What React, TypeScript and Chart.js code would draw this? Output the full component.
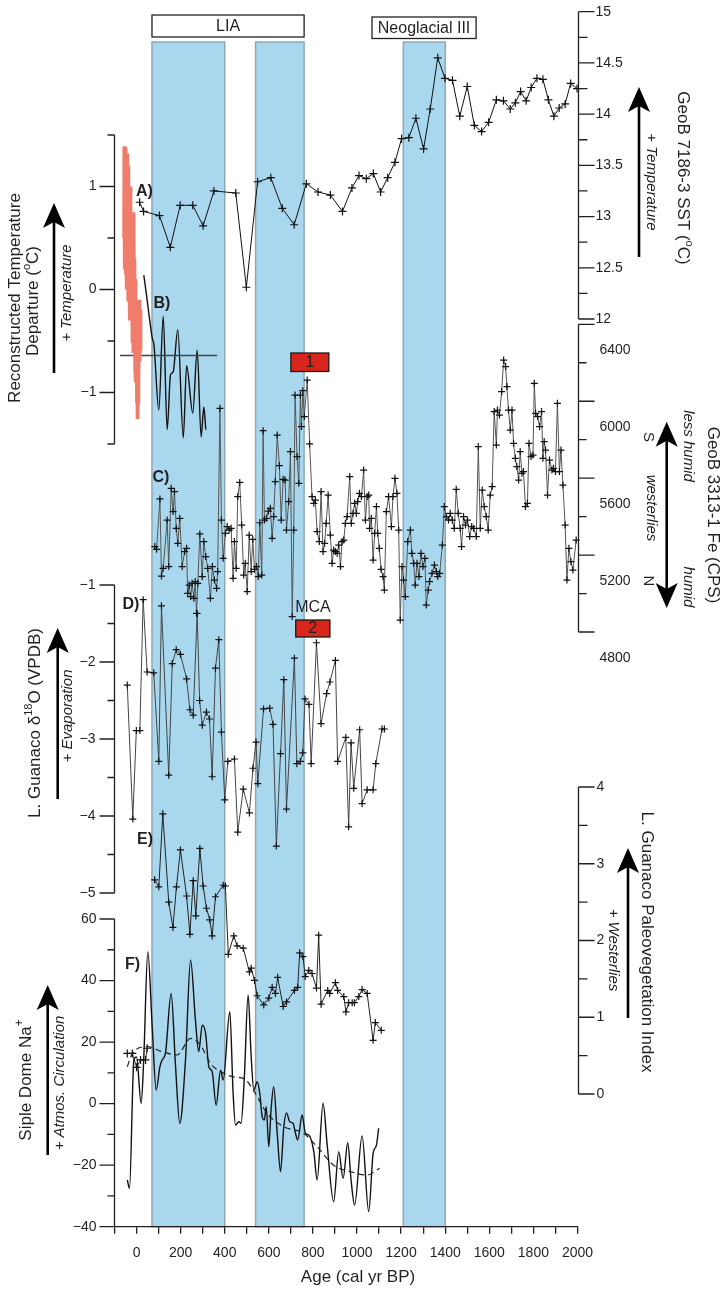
import React, { useEffect, useRef } from 'react';
import { Chart, registerables } from 'chart.js';

Chart.register(...registerables);

const W = 724;
const H = 1289;
const PLOT_LEFT = 114.5;
const PLOT_RIGHT = 577.5;
const AGE_MIN = -100;
const AGE_MAX = 2000;
const INK = '#231f20';
const FONT = '"Liberation Sans", Arial, Helvetica, sans-serif';
const BAND_FILL = '#a9d8ee';
const BAND_EDGE = '#8ea7b6';
const BAND_TOP = 42;

// Cold phases shaded across all records (cal yr BP)
const coldPhases = [[70, 400], [540, 760], [1210, 1400]];

// Tick labels
const ageLabels = [0, 200, 400, 600, 800, 1000, 1200, 1400, 1600, 1800, 2000];
const sstTicks = [12, 12.5, 13, 13.5, 14, 14.5, 15];
const tempTicks = [-1, 0, 1];
const feTicks = [4800, 5200, 5600, 6000, 6400];
const d18OTicks = [-5, -4, -3, -2, -1];
const vegTicks = [0, 1, 2, 3, 4];
const naTicks = [-40, -20, 0, 20, 40, 60];

// A) GeoB 7186-3 alkenone SST (deg C)
const sstAge = [14, 32, 104, 153, 198, 255, 302, 351, 450, 498, 549, 609, 661, 715, 770, 823, 879, 934, 977, 1009, 1042, 1074, 1107, 1139, 1172, 1202, 1235, 1267, 1302, 1332, 1366, 1399, 1433, 1466, 1500, 1532, 1565, 1597, 1632, 1664, 1695, 1718, 1742, 1767, 1790, 1816, 1843, 1868, 1893, 1917, 1944, 1969, 1998];
const sstTemp = [13.14, 13.05, 13.01, 12.70, 13.11, 13.11, 12.91, 13.25, 13.23, 12.31, 13.34, 13.38, 13.08, 12.92, 13.32, 13.24, 13.21, 13.05, 13.28, 13.40, 13.37, 13.42, 13.24, 13.38, 13.53, 13.76, 13.77, 13.96, 13.66, 14.05, 14.55, 14.35, 14.33, 13.98, 14.27, 13.89, 13.83, 13.92, 14.14, 14.13, 14.05, 14.11, 14.22, 14.13, 14.26, 14.35, 14.34, 14.14, 13.98, 14.06, 14.10, 14.30, 14.25];

// B) Reconstructed temperature departure (deg C): instrumental-era reconstruction
const reconAge = [-57, -56, -55, -54, -53, -52, -51, -50, -49, -48, -47, -46, -45, -44, -43, -42, -41, -40, -38, -37, -36, -34, -33, -31, -30, -28, -27, -25, -23, -21, -19, -17, -15, -13, -11, -9, -7, -5, -3, -1, 1, 2, 4, 5, 7, 8, 10, 12, 14, 16, 18, 19];
const reconTemp = [0.5, 1.39, 0.2, 1.2, 0.35, 1.3, 0.15, 1.0, 0.6, 1.38, 0.3, 1.1, 0.0, 0.9, 0.4, 1.32, 0.2, 0.95, -0.1, 1.2, 0.1, 0.8, -0.25, 0.6, -0.3, 1.0, 0.0, 0.5, -0.3, 0.7, -0.5, 0.2, -0.6, 0.75, -0.4, 0.3, -0.75, 0.1, -0.9, -0.2, -1.1, -0.5, -1.24, -0.6, -1.1, -0.3, -0.9, -0.1, -0.7, -0.2, -0.6, -0.35];
// B) Reconstructed temperature departure: smoothed lake record
const tempAge = [33, 48, 71, 79, 101, 121, 139, 154, 166, 187, 212, 227, 255, 275, 293, 305, 314];
const tempVal = [0.14, -0.10, -0.47, -0.54, -1.17, -0.26, -1.36, -0.83, -0.80, -0.39, -1.44, -0.74, -1.20, -0.59, -1.43, -1.14, -1.36];
const tempMeanAge = [-75, 366];
const tempMean = [-0.64, -0.64];

// C) GeoB 3313-1 Fe counts (CPS)
const feAge = [
  83, 91, 106, 113, 121, 139, 146, 157, 166, 172,
  180, 187, 196, 207, 218, 227, 232, 239, 245, 252,
  260, 266, 272, 278, 287, 298, 305, 314, 323, 335,
  344, 353, 363, 368, 378, 385, 393, 403, 411, 420,
  429, 438, 444, 452, 459, 468, 477, 486, 493, 502,
  511, 520, 527, 535, 544, 552, 559, 568, 574, 580,
  589, 598, 607, 615, 622, 629, 638, 648, 656, 665,
  674, 680, 690, 698, 706, 713, 719, 728, 736, 743,
  748, 754, 761, 774, 785, 796, 804, 811, 819, 829,
  837, 846, 853, 860, 869, 879, 887, 894, 902, 910,
  917, 925, 932, 940, 947, 955, 967, 974, 982, 989,
  997, 1003, 1011, 1020, 1030, 1038, 1046, 1053, 1057, 1065,
  1073, 1080, 1088, 1094, 1101, 1109, 1118, 1124, 1133, 1143,
  1156, 1163, 1172, 1181, 1189, 1196, 1204, 1211, 1219, 1230,
  1242, 1249, 1257, 1264, 1272, 1281, 1290, 1299, 1308, 1314,
  1323, 1329, 1340, 1351, 1360, 1366, 1375, 1387, 1396, 1405,
  1415, 1423, 1432, 1441, 1450, 1459, 1468, 1474, 1483, 1492,
  1501, 1511, 1520, 1529, 1541, 1550, 1559, 1568, 1577, 1586,
  1595, 1604, 1613, 1622, 1632, 1637, 1646, 1656, 1665, 1674,
  1680, 1687, 1695, 1703, 1710, 1718, 1725, 1733, 1740, 1748,
  1755, 1764, 1773, 1780, 1789, 1798, 1804, 1810, 1819, 1828,
  1837, 1843, 1849, 1855, 1864, 1873, 1884, 1891, 1900, 1909,
  1918, 1925, 1934, 1944, 1952, 1961, 1970, 1979, 1994,
];
const feCps = [
  5244, 5230, 5492, 5091, 5131, 5382, 5140, 5547, 5426, 5530,
  5339, 5261, 5391, 5140, 5218, 5235, 5001, 5044, 4984, 5053,
  4975, 5062, 4897, 5053, 5310, 5088, 5270, 5192, 5131, 4975,
  5140, 5070, 5027, 5114, 5963, 5382, 5183, 5313, 5348, 5330,
  5339, 5079, 5270, 5131, 5504, 5578, 5356, 5096, 5157, 5010,
  5304, 5114, 5282, 5126, 5140, 5088, 5368, 5096, 5847, 5382,
  5391, 5429, 5443, 5287, 5400, 5582, 5824, 5665, 5382, 5594,
  5590, 5330, 5478, 5738, 4880, 5330, 6032, 5712, 5573, 6032,
  5868, 6055, 5920, 6110, 5778, 5504, 5469, 5486, 5322, 5270,
  5530, 5218, 5261, 5365, 5512, 5304, 5157, 5226, 5218, 5209,
  5252, 5140, 5270, 5278, 5365, 5400, 5608, 5365, 5417, 5469,
  5417, 5478, 5521, 5504, 5642, 5382, 5504, 5512, 5339, 5391,
  5174, 5313, 5452, 5313, 5235, 5126, 5088, 5018, 5426, 5504,
  5348, 5504, 5599, 5521, 5330, 4862, 5140, 5070, 4984, 5270,
  5330, 5209, 5157, 5044, 5157, 5088, 5209, 5140, 5183, 4940,
  5018, 5062, 5105, 5148, 5114, 5088, 5105, 5252, 5452, 5400,
  5382, 5417, 5382, 5339, 5542, 5417, 5339, 5244, 5400, 5356,
  5382, 5296, 5348, 5339, 5296, 5764, 5339, 5538, 5452, 5400,
  5330, 5512, 5556, 5946, 5772, 5954, 5928, 6050, 6214, 6180,
  6076, 5954, 5850, 5954, 5781, 5703, 5660, 5590, 5738, 5625,
  5634, 5452, 5469, 5781, 5712, 5720, 6093, 5937, 5920, 5868,
  5946, 5703, 5790, 5746, 5512, 5694, 5642, 5651, 5634, 5989,
  5634, 5746, 5564, 5356, 5070, 5235, 5166, 5122, 5278,
];

// D) Lago Guanaco carbonate d18O (permil VPDB)
const d18OAge = [
  -42, -17, -1, 15, 30, 48, 78, 101, 113, 146,
  162, 180, 199, 227, 242, 257, 275, 286, 298, 317,
  331, 343, 358, 373, 385, 400, 414, 444, 459, 484,
  512, 528, 542, 550, 576, 604, 619, 634, 653, 668,
  680, 716, 727, 743, 754, 764, 782, 792, 816, 837,
  862, 877, 902, 912, 949, 962, 973, 985, 1012, 1023,
  1046, 1073, 1085, 1113, 1124,
];
const d18OVal = [
  -2.30, -4.04, -2.89, -2.89, -1.19, -2.13, -2.14, -3.29, -1.27, -3.47,
  -2.02, -1.84, -1.90, -2.22, -2.62, -2.69, -1.37, -2.50, -2.82, -2.65,
  -2.74, -3.49, -2.08, -1.71, -2.91, -3.79, -3.29, -3.26, -4.21, -3.65,
  -3.96, -3.38, -3.04, -3.58, -2.61, -2.60, -2.81, -4.39, -3.19, -2.23,
  -3.91, -1.95, -3.32, -3.29, -3.18, -2.48, -2.55, -3.32, -1.75, -2.80,
  -2.41, -2.26, -1.98, -3.29, -2.98, -4.14, -3.05, -3.64, -2.88, -3.84,
  -3.66, -3.66, -3.32, -2.87, -2.87,
];

// E) Lago Guanaco paleovegetation index
const vegAge = [
  82, 101, 119, 146, 165, 181, 199, 227, 242, 257,
  269, 287, 302, 317, 332, 343, 358, 393, 403, 416,
  441, 456, 484, 512, 520, 535, 547, 577, 600, 615,
  630, 640, 665, 680, 716, 731, 740, 755, 765, 781,
  796, 816, 826, 837, 867, 876, 902, 912, 940, 950,
  962, 978, 988, 1008, 1023, 1046, 1073, 1083, 1110,
];
const vegIndex = [
  2.79, 2.70, 3.65, 2.50, 2.17, 2.70, 3.18, 2.58, 2.08, 2.78,
  2.32, 3.20, 2.71, 2.42, 2.27, 2.06, 2.57, 2.72, 2.71, 1.82,
  2.06, 1.93, 1.90, 1.59, 1.64, 1.48, 1.28, 1.16, 1.25, 1.39,
  1.31, 1.52, 1.14, 1.20, 1.35, 1.39, 1.84, 1.79, 1.53, 1.61,
  1.57, 1.38, 2.07, 1.17, 1.35, 1.31, 1.45, 1.35, 1.27, 1.07,
  1.19, 1.19, 1.19, 1.27, 1.36, 1.31, 0.70, 0.93, 0.83,
];

// F) Siple Dome Na+ (filtered series, long-term trend, annual samples)
const naAge = [
  -42, -32, -12, 0, 21, 33, 51, 71, 89, 106,
  116, 131, 157, 177, 196, 222, 245, 267, 282, 298,
  313, 328, 343, 361, 381, 393, 423, 438, 449, 464,
  474, 489, 506, 520, 532, 547, 559, 570, 580, 588,
  600, 610, 622, 638, 653, 668, 680, 695, 710, 721,
  731, 751, 766, 781, 804, 819, 846, 864, 894, 917,
  937, 958, 973, 989, 1023, 1053, 1073, 1088, 1098,
];
const naVal = [
  -24.8, -27.5, 14.2, 15.2, 0.1, 15.2, 49.4, 25.0, 4.4, 12.0,
  14.2, 16.3, 35.8, 12.0, -6.4, 14.2, 46.7, 27.2, 16.9, 25.5,
  22.9, 12.0, 10.4, -0.5, 10.9, 7.7, 29.9, 3.3, -7.0, -5.9,
  -6.4, 8.7, 35.3, 15.2, 4.4, 7.1, 3.3, -4.3, -5.3, -1.0,
  -14.0, -2.1, 5.5, -9.7, -22.1, -7.5, -3.0, -5.9, -6.4, -9.7,
  -11.8, -3.7, -9.7, -10.2, -15.6, -24.8, 0.1, -12.9, -31.9, -15.6,
  -24.3, -12.7, -24.8, -33.0, -10.5, -35.1, -16.2, -13.5, -8.0,
];
const naTrendAge = [-42, -19, 48, 116, 184, 245, 290, 335, 381, 441, 486, 539, 592, 668, 758, 819, 894, 970, 1046, 1103];
const naTrendVal = [12.0, 16.3, 18.5, 16.9, 15.8, 21.2, 19.0, 13.1, 10.4, 8.7, 8.2, 3.3, -3.2, -7.5, -9.7, -14.0, -20.0, -22.1, -23.2, -21.0];
const naSampleAge = [-42, -19, 0, 18, 41, 48];
const naSampleVal = [16.3, 16.3, 11.8, 14.2, 14.2, 18.0];

const pts = (xs: number[], ys: number[]) => xs.map((x, i) => ({ x, y: ys[i] }));
const fmtTick = (v: number) => String(v).replace('-', '\u2212');

const ageTickMarks: number[] = [];
for (let a = AGE_MIN; a <= AGE_MAX; a += 100) ageTickMarks.push(a);

// ---------- drawing helpers ----------
type Run = { t: string; size?: number; dy?: number; style?: string };

function drawRich(ctx: CanvasRenderingContext2D, cx: number, cy: number, angleDeg: number, runs: Run[], baseSize = 17, baseStyle = '') {
  ctx.save();
  ctx.translate(cx, cy);
  ctx.rotate((angleDeg * Math.PI) / 180);
  ctx.fillStyle = INK;
  ctx.textBaseline = 'middle';
  ctx.textAlign = 'left';
  const fontOf = (r: Run) => `${r.style ?? baseStyle} ${r.size ?? baseSize}px ${FONT}`.trim();
  let total = 0;
  runs.forEach((r) => {
    ctx.font = fontOf(r);
    total += ctx.measureText(r.t).width;
  });
  let x = -total / 2;
  runs.forEach((r) => {
    ctx.font = fontOf(r);
    ctx.fillText(r.t, x, r.dy ?? 0);
    x += ctx.measureText(r.t).width;
  });
  ctx.restore();
}

function arrowHead(ctx: CanvasRenderingContext2D, x: number, tip: number, dir: number) {
  const L = 25, hw = 11, notch = 6;
  ctx.beginPath();
  ctx.moveTo(x, tip);
  ctx.lineTo(x + hw, tip + dir * L);
  ctx.lineTo(x, tip + dir * (L - notch));
  ctx.lineTo(x - hw, tip + dir * L);
  ctx.closePath();
  ctx.fill();
}

function drawArrow(ctx: CanvasRenderingContext2D, x: number, tail: number, tip: number, both = false) {
  ctx.save();
  ctx.strokeStyle = '#000';
  ctx.fillStyle = '#000';
  ctx.lineWidth = 2.6;
  ctx.beginPath();
  ctx.moveTo(x, both ? tail - 19 : tail);
  ctx.lineTo(x, tip + 19);
  ctx.stroke();
  arrowHead(ctx, x, tip, 1);
  if (both) arrowHead(ctx, x, tail, -1);
  ctx.restore();
}

// ---------- annotation layout ----------
const periodBoxes = [
  { label: 'LIA', from: 70, to: 760, top: 15, height: 22 },
  { label: 'Neoglacial III', from: 1068, to: 1540, top: 17, height: 21.5 },
];
const eventBoxes = [
  { label: '1', from: 700, to: 872, top: 353, height: 18.5 },
  { label: '2', from: 722, to: 877, top: 620, height: 17 },
];
const panelLetters = [
  { t: 'A)', x: 144.5, y: 191.5 },
  { t: 'B)', x: 162, y: 303.5 },
  { t: 'C)', x: 161, y: 478 },
  { t: 'D)', x: 131, y: 605 },
  { t: 'E)', x: 145, y: 840 },
  { t: 'F)', x: 132.5, y: 965 },
];
const axisTitles: { x: number; y: number; a: number; runs: Run[] }[] = [
  { x: 15, y: 298, a: -90, runs: [{ t: 'Reconstructed Temperature' }] },
  { x: 33, y: 301, a: -90, runs: [{ t: 'Departure (' }, { t: 'o', size: 11, dy: -6 }, { t: 'C)' }] },
  { x: 683, y: 178, a: 90, runs: [{ t: 'GeoB 7186-3 SST (' }, { t: 'o', size: 11, dy: -6 }, { t: 'C)' }] },
  { x: 713, y: 515, a: 90, runs: [{ t: 'GeoB 3313-1 Fe (CPS)' }] },
  { x: 35, y: 723, a: -90, runs: [{ t: 'L. Guanaco \u03b4' }, { t: '18', size: 11, dy: -6 }, { t: 'O (VPDB)' }] },
  { x: 647, y: 942, a: 90, runs: [{ t: 'L. Guanaco Paleovegetation Index' }] },
  { x: 26, y: 1080, a: -90, runs: [{ t: 'Siple Dome Na' }, { t: '+', size: 12, dy: -6 }] },
];
const axisNotes = [
  { x: 67, y: 293, a: -90, t: '+ Temperature', style: 'italic' },
  { x: 651, y: 182, a: 90, t: '+ Temperature', style: 'italic' },
  { x: 68, y: 716, a: -90, t: '+ Evaporation', style: 'italic' },
  { x: 613, y: 950, a: 90, t: '+ Westerlies', style: 'italic' },
  { x: 60, y: 1083, a: -90, t: '+ Atmos. Circulation', style: 'italic' },
  { x: 688, y: 446, a: 90, t: 'less humid', style: 'italic' },
  { x: 688, y: 587, a: 90, t: 'humid', style: 'italic' },
  { x: 651, y: 508, a: 90, t: 'westerlies', style: 'italic' },
  { x: 648, y: 437, a: 90, t: 'S', style: '' },
  { x: 648, y: 581, a: 90, t: 'N', style: '' },
];
const arrows = [
  { x: 54, tail: 373, tip: 203, both: false },
  { x: 639, tail: 257, tip: 87, both: false },
  { x: 666.7, tail: 608, tip: 421.7, both: true },
  { x: 57.7, tail: 799, tip: 628, both: false },
  { x: 628, tail: 1018, tip: 848, both: false },
  { x: 47.7, tail: 1155, tip: 985, both: false },
];

const coldBandsPlugin = {
  id: 'coldBands',
  beforeDraw(chart: any) {
    const { ctx, chartArea } = chart;
    const xs = chart.scales.x;
    ctx.save();
    coldPhases.forEach(([a, b]) => {
      const x1 = xs.getPixelForValue(a);
      const x2 = xs.getPixelForValue(b);
      ctx.fillStyle = BAND_FILL;
      ctx.fillRect(x1, BAND_TOP, x2 - x1, chartArea.bottom - BAND_TOP);
      ctx.strokeStyle = BAND_EDGE;
      ctx.lineWidth = 1.5;
      ctx.strokeRect(x1, BAND_TOP, x2 - x1, chartArea.bottom - BAND_TOP);
    });
    ctx.restore();
  },
};

const annotationsPlugin = {
  id: 'annotations',
  afterDraw(chart: any) {
    const { ctx } = chart;
    const xs = chart.scales.x;
    ctx.save();
    ctx.lineWidth = 1.3;
    periodBoxes.forEach((b) => {
      const x1 = xs.getPixelForValue(b.from);
      const x2 = xs.getPixelForValue(b.to);
      ctx.fillStyle = '#fff';
      ctx.fillRect(x1, b.top, x2 - x1, b.height);
      ctx.strokeStyle = INK;
      ctx.strokeRect(x1, b.top, x2 - x1, b.height);
      drawRich(ctx, (x1 + x2) / 2, b.top + b.height / 2 + 0.5, 0, [{ t: b.label }], 16);
    });
    eventBoxes.forEach((b) => {
      const x1 = xs.getPixelForValue(b.from);
      const x2 = xs.getPixelForValue(b.to);
      ctx.fillStyle = '#d8261c';
      ctx.fillRect(x1, b.top, x2 - x1, b.height);
      ctx.strokeStyle = '#1a1a1a';
      ctx.strokeRect(x1, b.top, x2 - x1, b.height);
      drawRich(ctx, (x1 + x2) / 2, b.top + b.height / 2 + 0.5, 0, [{ t: b.label }], 16);
    });
    drawRich(ctx, xs.getPixelForValue(800), 607.5, 0, [{ t: 'MCA' }], 16);
    panelLetters.forEach((p) => drawRich(ctx, p.x, p.y, 0, [{ t: p.t }], 16, 'bold'));
    axisTitles.forEach((t) => drawRich(ctx, t.x, t.y, t.a, t.runs, 17));
    axisNotes.forEach((n) => drawRich(ctx, n.x, n.y, n.a, [{ t: n.t }], 15, n.style));
    arrows.forEach((a) => drawArrow(ctx, a.x, a.tail, a.tip, a.both));
    drawRich(ctx, 358, 1277, 0, [{ t: 'Age (cal yr BP)' }], 17);
    ctx.restore();
  },
};

// ---------- panels ----------
type Panel = {
  id: string;
  side: 'left' | 'right';
  min: number;
  max: number;
  top: number;
  bottom: number;
  ticks: number[];
  majorStep: number;
  minorStep: number;
  majorLen: number;
  minorLen: number;
  labelPad: number;
  labelOffset?: number;
  ageAxis?: boolean;
  datasets: any[];
  extra?: any[];
};

function axisMarks(p: Panel) {
  return {
    id: 'axisMarks',
    afterDraw(chart: any) {
      const s = chart.scales.y;
      const ctx = chart.ctx;
      const x = p.side === 'right' ? Math.round(s.left) + 0.5 : Math.round(s.right) - 0.5;
      const dir = p.side === 'right' ? 1 : -1;
      ctx.save();
      ctx.strokeStyle = INK;
      ctx.lineWidth = 1.3;
      ctx.beginPath();
      ctx.moveTo(x, s.getPixelForValue(p.max));
      ctx.lineTo(x, s.getPixelForValue(p.min));
      const n = Math.round((p.max - p.min) / p.minorStep);
      for (let i = 0; i <= n; i++) {
        const v = p.min + i * p.minorStep;
        const r = v / p.majorStep;
        const major = Math.abs(r - Math.round(r)) < 1e-6;
        const py = s.getPixelForValue(v);
        ctx.moveTo(x, py);
        ctx.lineTo(x + dir * (major ? p.majorLen : p.minorLen), py);
      }
      ctx.stroke();
      ctx.restore();
    },
  };
}

const crossPoints = (radius = 3.5) => ({
  pointStyle: 'cross',
  pointRadius: radius,
  pointBorderColor: '#111',
  pointBorderWidth: 1.2,
});

const panels: Panel[] = [
  {
    id: 'siple', side: 'left', min: -40, max: 60, top: 919, bottom: 1226.7, ticks: naTicks,
    majorStep: 20, minorStep: 10, majorLen: 15, minorLen: 7, labelPad: 18, ageAxis: true,
    datasets: [
      { data: pts(naTrendAge, naTrendVal), borderColor: '#222', borderWidth: 1.2, borderDash: [6, 4], pointRadius: 0, cubicInterpolationMode: 'monotone' },
      { data: pts(naAge, naVal), borderColor: '#111', borderWidth: 1.4, pointRadius: 0, cubicInterpolationMode: 'monotone' },
      { data: pts(naSampleAge, naSampleVal), borderColor: '#333', borderWidth: 1, ...crossPoints(4) },
    ],
    extra: [coldBandsPlugin],
  },
  {
    id: 'veg', side: 'right', min: 0, max: 4, top: 787, bottom: 1094, ticks: vegTicks,
    majorStep: 1, minorStep: 0.5, majorLen: 16, minorLen: 9, labelPad: 19,
    datasets: [{ data: pts(vegAge, vegIndex), borderColor: '#222', borderWidth: 1, ...crossPoints() }],
  },
  {
    id: 'd18o', side: 'left', min: -5, max: -1, top: 585, bottom: 893, ticks: d18OTicks,
    majorStep: 1, minorStep: 0.5, majorLen: 15, minorLen: 7, labelPad: 19,
    datasets: [{ data: pts(d18OAge, d18OVal), borderColor: '#444', borderWidth: 1, ...crossPoints() }],
  },
  {
    id: 'fe', side: 'right', min: 4800, max: 6400, top: 324.3, bottom: 632, ticks: feTicks,
    majorStep: 400, minorStep: 200, majorLen: 16, minorLen: 8, labelPad: 22, labelOffset: 26,
    datasets: [{ data: pts(feAge, feCps), borderColor: '#555', borderWidth: 1, ...crossPoints() }],
  },
  {
    id: 'temp', side: 'left', min: -1.5, max: 1.5, top: 135, bottom: 444, ticks: tempTicks,
    majorStep: 1, minorStep: 0.5, majorLen: 15, minorLen: 7, labelPad: 18,
    datasets: [
      { data: pts(reconAge, reconTemp), borderColor: '#f07c6c', borderWidth: 3.5, pointRadius: 0 },
      { data: pts(tempMeanAge, tempMean), borderColor: '#444', borderWidth: 1.5, pointRadius: 0 },
      { data: pts(tempAge, tempVal), borderColor: '#111', borderWidth: 1.4, pointRadius: 0, cubicInterpolationMode: 'monotone' },
    ],
  },
  {
    id: 'sst', side: 'right', min: 12, max: 15, top: 11.7, bottom: 319, ticks: sstTicks,
    majorStep: 0.5, minorStep: 0.25, majorLen: 16, minorLen: 9, labelPad: 18,
    datasets: [{ data: pts(sstAge, sstTemp), borderColor: '#111', borderWidth: 1, ...crossPoints(4) }],
    extra: [annotationsPlugin],
  },
];

function ageScale(show: boolean, axisHeight: number) {
  const scale: any = {
    type: 'linear',
    min: AGE_MIN,
    max: AGE_MAX,
    display: show,
  };
  if (!show) return scale;
  return {
    ...scale,
    afterFit: (s: any) => {
      s.height = axisHeight;
      s.paddingLeft = 0;
      s.paddingRight = 0;
    },
    afterBuildTicks: (s: any) => {
      s.ticks = ageTickMarks.map((value) => ({ value }));
    },
    ticks: {
      autoSkip: false,
      maxRotation: 0,
      padding: 11,
      color: INK,
      font: { family: FONT, size: 14 },
      callback: (v: number) => (ageLabels.includes(v) ? String(v) : ''),
    },
    grid: { display: true, drawOnChartArea: false, drawTicks: true, tickLength: 7, color: INK, lineWidth: 1.3 },
    border: { display: true, color: INK, width: 1.3 },
  };
}

function buildChart(canvas: HTMLCanvasElement, p: Panel) {
  const yWidth = 60;
  const padding = {
    top: p.top,
    bottom: p.ageAxis ? 0 : H - p.bottom,
    left: p.side === 'left' ? PLOT_LEFT - yWidth : PLOT_LEFT,
    right: p.side === 'right' ? W - PLOT_RIGHT - yWidth : W - PLOT_RIGHT,
  };
  return new Chart(canvas, {
    type: 'line',
    data: {
      datasets: p.datasets.map((d) => ({ fill: false, tension: 0, clip: false, ...d })),
    },
    options: {
      responsive: false,
      animation: false,
      events: [],
      layout: { padding },
      plugins: { legend: { display: false }, tooltip: { enabled: false } },
      scales: {
        x: ageScale(!!p.ageAxis, H - p.bottom),
        y: {
          type: 'linear',
          position: p.side,
          min: p.min,
          max: p.max,
          afterFit: (s: any) => {
            s.width = yWidth;
            s.paddingTop = 0;
            s.paddingBottom = 0;
          },
          afterBuildTicks: (s: any) => {
            s.ticks = p.ticks.map((value) => ({ value }));
          },
          ticks: {
            autoSkip: false,
            padding: p.labelPad,
            labelOffset: p.labelOffset ?? 0,
            color: INK,
            font: { family: FONT, size: 14 },
            callback: (v: number) => fmtTick(v),
          },
          grid: { display: false, drawTicks: false },
          border: { display: false },
        },
      },
    } as any,
    plugins: [axisMarks(p), ...(p.extra ?? [])],
  });
}

export default function App() {
  const refs = useRef<(HTMLCanvasElement | null)[]>([]);

  useEffect(() => {
    const charts = panels.map((p, i) => buildChart(refs.current[i] as HTMLCanvasElement, p));
    return () => charts.forEach((c) => c.destroy());
  }, []);

  return (
    <div style={{ position: 'absolute', left: 0, top: 0, width: W, height: H, background: '#fff', overflow: 'hidden' }}>
      {panels.map((p, i) => (
        <canvas
          key={p.id}
          ref={(el) => {
            refs.current[i] = el;
          }}
          width={W}
          height={H}
          style={{ position: 'absolute', left: 0, top: 0, width: W, height: H }}
        />
      ))}
    </div>
  );
}
